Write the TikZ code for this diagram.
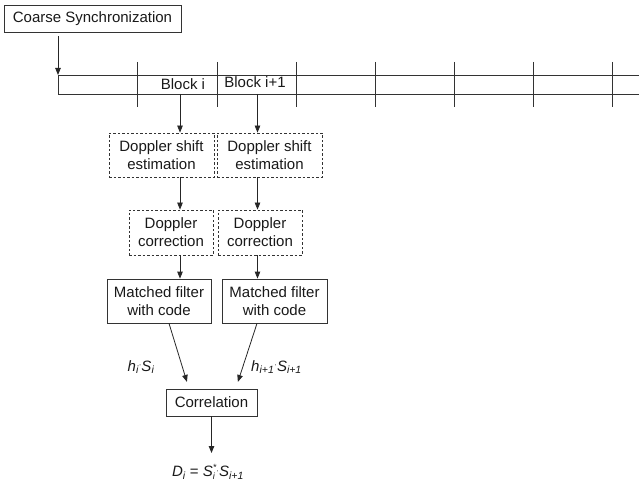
\documentclass[tikz,border=0pt]{standalone}
\usepackage{fontspec}
\setmainfont{Liberation Sans}
\usetikzlibrary{arrows.meta}
% subscript / superscript helpers for the italic signal labels
\newcommand{\sub}[1]{\textsubscript{\itshape #1}}
\newcommand{\cdotsym}{\raisebox{0.25em}{\footnotesize·}}
\newcommand{\supsub}[2]{\raisebox{-2.5bp}{\fontsize{9bp}{8bp}\selectfont\itshape\begin{tabular}[b]{@{}l@{}}#1\\#2\end{tabular}}}
\begin{document}
\begin{tikzpicture}[x=1bp,y=-1bp,
  every node/.style={font=\fontsize{15bp}{18bp}\selectfont, inner sep=0pt, align=center, text=black!90},
  blockbox/.style={draw=black!80, line width=0.8bp, minimum height=44bp},
  dashbox/.style={blockbox, dash pattern=on 2.5bp off 2bp},
  arr/.style={-{Triangle[length=7bp,width=5.5bp]}, line width=0.8bp, draw=black!85},
  plain/.style={line width=0.8bp, draw=black!80}]
\useasboundingbox (0,0) rectangle (639,484);

% reference columns for the vertical signal paths
\coordinate (ca) at (180,0);
\coordinate (cb) at (257.5,0);
\coordinate (s1) at (169,0);
\coordinate (s2) at (257,0);
\coordinate (e1) at (189,0);
\coordinate (e2) at (235.7,0);
\coordinate (bartop) at (58,75);
\coordinate (barbot) at (58,94);
\coordinate (dend) at (211.5,453);

% synchronization block
\node[blockbox, minimum width=177bp, minimum height=27bp] (sync) at (92.5,18.5) {Coarse Synchronization};

% received frame split into blocks
\draw[plain] (639,75) -- (bartop) -- (barbot) -- (639,94);
\foreach \x in {137,217,296,375,454,533,612}
  \draw[plain] (\x,62) -- (\x,107);
\node (blk1) at (183,84) {Block i};
\node (blk2) at (255,82) {Block i+1};

% processing chain, two parallel branches
\node[dashbox, minimum width=105bp] (est1) at (161.5,155) {Doppler shift\\estimation};
\node[dashbox, minimum width=105bp] (est2) at (269.5,155) {Doppler shift\\estimation};
\node[dashbox, minimum width=84bp, minimum height=45bp] (cor1) at (171,232.5) {Doppler\\correction};
\node[dashbox, minimum width=84bp, minimum height=45bp] (cor2) at (260,232.5) {Doppler\\correction};
\node[blockbox, minimum width=104bp] (mf1) at (159,301) {Matched filter\\with code};
\node[blockbox, minimum width=105bp] (mf2) at (274.5,301) {Matched filter\\with code};
\node[blockbox, minimum width=91bp, minimum height=27bp] (corr) at (211.5,402.5) {Correlation};

% signal labels
\node (lh1) at (141,367) {\textit{h}\sub{i}\cdotsym\textit{S}\sub{i}};
\node (lh2) at (276.5,367) {\textit{h}\sub{i+1}\cdotsym\textit{S}\sub{i+1}};
\node (dlab) at (208,473) {\textit{D}\sub{i} = \textit{S}\supsub{*}{i}\cdotsym\textit{S}\sub{i+1}};

% connectors
\draw[arr, shorten <=4bp] (sync.south -| bartop) -- (bartop);
\draw[arr] (barbot -| ca) -- (est1.north -| ca);
\draw[arr] (barbot -| cb) -- (est2.north -| cb);
\draw[arr] (est1.south -| ca) -- (cor1.north -| ca);
\draw[arr] (est2.south -| cb) -- (cor2.north -| cb);
\draw[arr] (cor1.south -| ca) -- (mf1.north -| ca);
\draw[arr] (cor2.south -| cb) -- (mf2.north -| cb);
\draw[arr, shorten >=7bp] (mf1.south -| s1) -- (corr.north -| e1);
\draw[arr, shorten >=7bp] (mf2.south -| s2) -- (corr.north -| e2);
\draw[arr] (corr.south) -- (dend);
\end{tikzpicture}
\end{document}
